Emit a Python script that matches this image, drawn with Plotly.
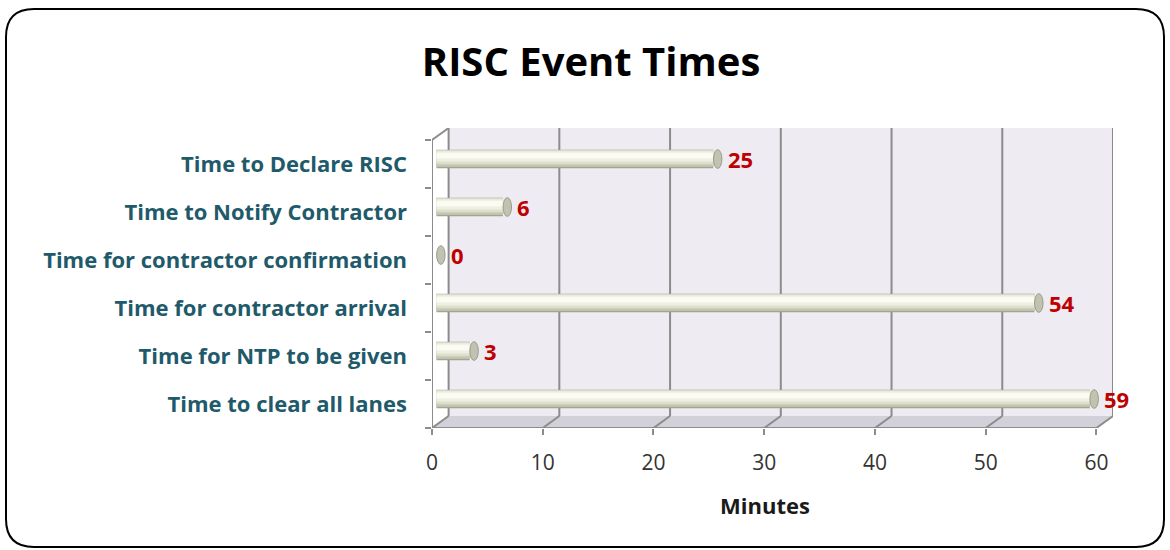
import plotly.graph_objects as go

categories = ["Time to Declare RISC", "Time to Notify Contractor", "Time for contractor confirmation",
              "Time for contractor arrival", "Time for NTP to be given", "Time to clear all lanes"]
values = [25, 6, 0, 54, 3, 59]
x_ticks = [0, 10, 20, 30, 40, 50, 60]

W, H = 1170, 550
L, R, T, B = 432, 57, 128, 122
XMAX = 61.5
DX, DY = 1.5, 0.25
pw, ph = W - L - R, H - T - B

n = len(categories)
ypos = [n - 1 - k for k in range(n)]

FONT = "Open Sans"
GRID = "#8C8C8C"

fig = go.Figure()

layers = [(-0.195, 0.39, "#A3A791"), (-0.16, 0.345, "#C6C9B5"), (-0.11, 0.29, "#DEE0CE"),
          (-0.05, 0.21, "#EEEFE1"), (0.01, 0.12, "#FAFBF3")]
for off, wd, col in layers:
    fig.add_trace(go.Bar(y=ypos, x=values, base=-0.4, orientation="h", width=wd, offset=off,
                         marker=dict(color=col, line=dict(width=0)), xaxis="x2", yaxis="y2",
                         hoverinfo="skip", showlegend=False))

shapes = []
shapes.append(dict(type="rect", xref="x", yref="y", x0=DX, x1=XMAX, y0=-0.5 + DY, y1=5.5 + DY,
                   fillcolor="#EEEBF2", line=dict(width=0), layer="below"))
shapes.append(dict(type="path", xref="x", yref="y",
                   path=f"M 0,-0.5 L 60,-0.5 L {60+DX},{-0.5+DY} L {DX},{-0.5+DY} Z",
                   fillcolor="#D2D0D8", line=dict(width=0), layer="below"))
for t in x_ticks:
    shapes.append(dict(type="line", xref="x", yref="y", x0=t + DX, x1=t + DX, y0=-0.5 + DY, y1=5.5 + DY,
                       line=dict(color=GRID, width=2), layer="below"))
    shapes.append(dict(type="line", xref="x", yref="y", x0=t, x1=t + DX, y0=-0.5, y1=-0.5 + DY,
                       line=dict(color=GRID, width=2), layer="below"))
shapes.append(dict(type="line", xref="x", yref="y", x0=0, x1=60, y0=-0.5, y1=-0.5,
                   line=dict(color=GRID, width=2), layer="below"))
shapes.append(dict(type="line", xref="x", yref="y", x0=0, x1=0, y0=-0.5, y1=5.5,
                   line=dict(color=GRID, width=2), layer="below"))
shapes.append(dict(type="line", xref="x", yref="y", x0=0, x1=DX, y0=5.5, y1=5.5 + DY,
                   line=dict(color=GRID, width=2), layer="below"))
for v, yp in zip(values, ypos):
    shapes.append(dict(type="circle", xref="x2", yref="y2", x0=v - 0.38, x1=v + 0.38,
                       y0=yp - 0.195, y1=yp + 0.195, fillcolor="#C0C3AF",
                       line=dict(color="#9A9D8A", width=1), layer="above"))

def px(x):
    return (x - L) / pw
def py(y):
    return (H - B - y) / ph
x0f, x1f, y0f, y1f, r = 6, 1164, 9, 547, 28
frame = (f"M {px(x0f+r)},{py(y0f)} L {px(x1f-r)},{py(y0f)} Q {px(x1f)},{py(y0f)} {px(x1f)},{py(y0f+r)} "
         f"L {px(x1f)},{py(y1f-r)} Q {px(x1f)},{py(y1f)} {px(x1f-r)},{py(y1f)} "
         f"L {px(x0f+r)},{py(y1f)} Q {px(x0f)},{py(y1f)} {px(x0f)},{py(y1f-r)} "
         f"L {px(x0f)},{py(y0f+r)} Q {px(x0f)},{py(y0f)} {px(x0f+r)},{py(y0f)} Z")
shapes.append(dict(type="path", xref="paper", yref="paper", path=frame,
                   line=dict(color="#000000", width=2), layer="below"))

annotations = []
for v, yp in zip(values, ypos):
    annotations.append(dict(x=v, y=yp, xref="x2", yref="y2", text=str(v), showarrow=False,
                            xanchor="left", yanchor="middle", xshift=8,
                            font=dict(family=FONT, size=22, color="#C00000", weight="bold")))
annotations.append(dict(x=px(765), y=py(505), xref="paper", yref="paper", text="Minutes",
                        showarrow=False, xanchor="center", yanchor="middle",
                        font=dict(family=FONT, size=22, color="#1A1A1A", weight="bold")))

fig.update_layout(
    width=W, height=H, margin=dict(l=L, r=R, t=T, b=B, autoexpand=False),
    paper_bgcolor="white", plot_bgcolor="white",
    barmode="overlay",
    title=dict(text="RISC Event Times", x=591 / W, y=1 - 62 / H, xanchor="center", yanchor="middle",
               font=dict(family=FONT, size=40, color="#000000", weight="bold")),
    xaxis=dict(range=[0, XMAX], tickvals=x_ticks, ticktext=[str(t) for t in x_ticks],
               showgrid=False, zeroline=False, showline=False, ticks="outside", ticklen=6,
               tickcolor=GRID, tickwidth=2, ticklabelstandoff=10,
               tickfont=dict(family=FONT, size=21, color="#333333"), fixedrange=True),
    yaxis=dict(range=[-0.5, 5.5 + DY], tickvals=ypos, ticktext=categories, showgrid=False,
               zeroline=False, showline=False, ticks="", ticklabelstandoff=24,
               minor=dict(tickvals=[k - 0.5 for k in range(n + 1)], ticks="outside", ticklen=6,
                          tickcolor=GRID, tickwidth=2, showgrid=False),
               tickfont=dict(family=FONT, size=22, color="#1F5A6B", weight="bold"), fixedrange=True),
    xaxis2=dict(range=[-0.8, XMAX - 0.8], overlaying="x", visible=False, fixedrange=True),
    yaxis2=dict(range=[-0.604, 5.5 + DY - 0.104], overlaying="y", visible=False, fixedrange=True),
    shapes=shapes, annotations=annotations,
)

fig.write_html("out.html", config={"displayModeBar": False},
               post_script="document.body.style.margin='0';")
